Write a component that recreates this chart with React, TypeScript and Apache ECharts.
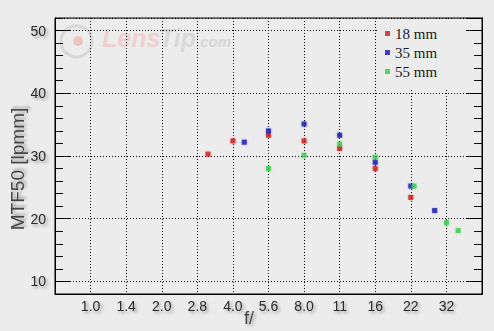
import React, { useEffect, useRef } from "react";
import * as echarts from "echarts";

// x positions are aperture stops counted from f/1.0 (0) to f/32 (10)
const fStops = ["1.0", "1.4", "2.0", "2.8", "4.0", "5.6", "8.0", "11", "16", "22", "32"];
const seriesNames = ["18 mm", "35 mm", "55 mm"];
const seriesColors = ["#d21a1a", "#1616b4", "#36cc48"];

const mm18: [number, number][] = [
  [3.3, 30.3], [4, 32.4], [5, 33.3], [6, 32.4], [7, 31.2], [8, 28.0], [9, 23.4],
];
const mm35: [number, number][] = [
  [4.32, 32.2], [5, 34.0], [6, 35.1], [7, 33.3], [8, 29.0], [9, 25.2], [9.67, 21.3],
];
const mm55: [number, number][] = [
  [5, 28.0], [6, 30.1], [7, 31.9], [8, 29.8], [9.09, 25.2], [10, 19.4], [10.33, 18.1],
];

const yMin = 8;
const yMax = 52;

const BG = "#ececec";
const SANS = "'Liberation Sans Narrow', 'Liberation Sans', Arial, sans-serif";
const SERIF = "'Liberation Serif', 'Times New Roman', serif";

export default function App() {
  const ref = useRef<HTMLDivElement>(null);
  useEffect(() => {
    document.body.style.margin = "0";
    const chart = echarts.init(ref.current!, null, { renderer: "svg" });
    const shadow = {
      textShadowColor: "rgba(0,0,0,0.35)",
      textShadowBlur: 3,
      textShadowOffsetX: 2,
      textShadowOffsetY: 2,
    };
    const dotted = { color: "#000", width: 1, type: [1, 2] as any };
    const minorAxis = (position: "left" | "right") => ({
      type: "value",
      position,
      min: yMin,
      max: yMax,
      interval: 2,
      axisLine: { show: true, onZero: false, lineStyle: { color: "#000" } },
      axisTick: { show: true, inside: true, length: 8, lineStyle: { color: "#000" } },
      axisLabel: { show: false },
      splitLine: { show: false },
    });
    const majorAxis = (position: "left" | "right", labels: boolean) => ({
      type: "value",
      position,
      min: yMin,
      max: yMax,
      axisLine: { show: true, onZero: false, lineStyle: { color: "#000" } },
      axisTick: { show: true, inside: true, length: 15, lineStyle: { color: "#000" } },
      axisLabel: {
        show: labels,
        showMinLabel: false,
        showMaxLabel: false,
        formatter: (v: number) => (v % 10 === 0 ? String(v) : ""),
        color: "#2a2a2a",
        fontSize: 14,
        fontFamily: SANS,
        margin: 9,
        ...shadow,
      },
      splitLine: { show: labels, lineStyle: dotted },
    });
    const datasets = [mm18, mm35, mm55];
    chart.setOption({
      animation: false,
      backgroundColor: BG,
      grid: {
        left: 55,
        right: 12,
        top: 18,
        bottom: 37,
        show: true,
        borderColor: "#000",
        borderWidth: 1,
        backgroundColor: "transparent",
      },
      xAxis: {
        type: "value",
        min: -1,
        max: 11,
        interval: 1,
        axisLine: { show: true, onZero: false, lineStyle: { color: "#000" } },
        axisTick: { show: false },
        axisLabel: {
          formatter: (v: number) => fStops[Math.round(v)] ?? "",
          color: "#2a2a2a",
          fontSize: 14,
          fontFamily: SANS,
          margin: 5,
          ...shadow,
        },
        splitLine: { show: true, lineStyle: dotted },
      },
      yAxis: [minorAxis("left"), majorAxis("left", true), minorAxis("right"), majorAxis("right", false)],
      legend: {
        orient: "vertical",
        left: 377,
        top: 19,
        backgroundColor: BG,
        padding: [7, 27, 11, 8],
        itemWidth: 5,
        itemHeight: 5,
        itemGap: 4,
        icon: "rect",
        textStyle: { fontFamily: SERIF, fontSize: 15, color: "#1a1a1a" },
        data: seriesNames,
      },
      graphic: [
        {
          type: "group",
          z: -10,
          silent: true,
          children: [
            { type: "circle", shape: { cx: 76.5, cy: 41.5, r: 15.5 }, style: { fill: "none", stroke: "#d8d8d8", lineWidth: 3 }, z: -10 },
            { type: "circle", shape: { cx: 78, cy: 41, r: 5 }, style: { fill: "#ecc4c4" }, z: -10 },
            { type: "text", x: 102, y: 50, style: { text: "Lens", fill: "#eed0d0", font: "italic bold 25px 'Liberation Sans', Arial, sans-serif", verticalAlign: "bottom" }, z: -10 },
            { type: "text", x: 159, y: 50, style: { text: "Tip", fill: "#d9d9d9", font: "italic bold 25px 'Liberation Sans', Arial, sans-serif", verticalAlign: "bottom" }, z: -10 },
            { type: "text", x: 196, y: 49, style: { text: ".com", fill: "#d6d6d6", font: "italic bold 15px 'Liberation Sans', Arial, sans-serif", verticalAlign: "bottom" }, z: -10 },
          ],
        },
        {
          type: "text",
          x: 17,
          y: 169,
          rotation: Math.PI / 2,
          style: {
            text: "MTF50 [lpmm]",
            fill: "#444",
            font: `19px ${SANS}`,
            align: "center",
            verticalAlign: "middle",
            ...shadow,
          },
        },
        {
          type: "text",
          x: 249,
          y: 318,
          style: {
            text: "f/",
            fill: "#444",
            font: `18px ${SANS}`,
            align: "center",
            verticalAlign: "middle",
            ...shadow,
          },
        },
      ],
      series: datasets.map((d, i) => ({
        type: "scatter",
        name: seriesNames[i],
        xAxisIndex: 0,
        yAxisIndex: 0,
        symbol: "rect",
        symbolSize: 5,
        itemStyle: { color: seriesColors[i], shadowBlur: 2, shadowColor: seriesColors[i] + "66" },
        data: d,
      })),
    });
    return () => chart.dispose();
  }, []);
  return <div ref={ref} style={{ width: 494, height: 331 }} />;
}
